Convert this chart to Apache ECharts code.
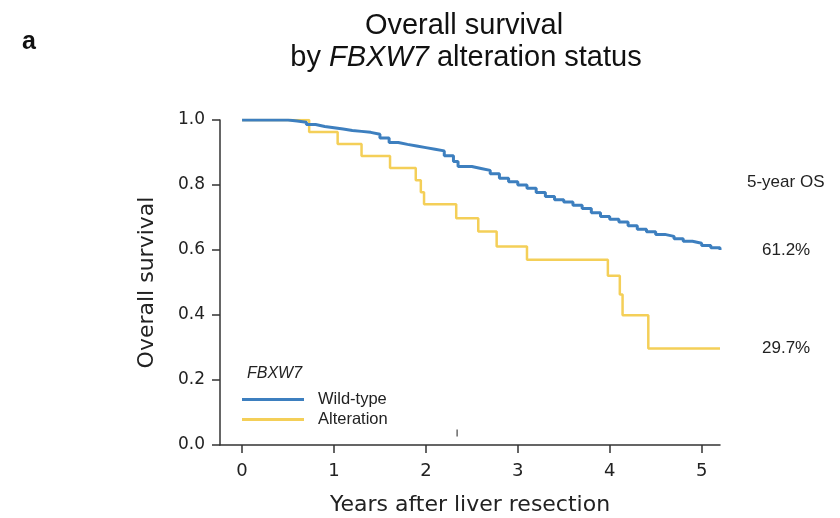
<!DOCTYPE html>
<html>
<head>
<meta charset="utf-8">
<script src="https://cdn.jsdelivr.net/npm/echarts@6/dist/echarts.min.js"></script>
<style>
  html, body { margin: 0; padding: 0; background: #fff; }
  #km { width: 840px; height: 518px; }
</style>
</head>
<body>
<div id="km"></div>
<script>
    // Kaplan-Meier curves: [years, survival]
    var wildType = [
        [0, 1.0], [0.45, 1.0], [0.5, 0.997], [0.6, 0.993], [0.7, 0.986], [0.8, 0.98],
        [0.9, 0.976], [1.0, 0.972], [1.1, 0.968], [1.2, 0.965], [1.3, 0.962], [1.4, 0.956],
        [1.5, 0.945], [1.6, 0.931], [1.7, 0.925], [1.8, 0.92], [1.9, 0.915], [2.0, 0.91],
        [2.1, 0.905], [2.2, 0.89], [2.3, 0.872], [2.35, 0.857], [2.5, 0.851], [2.6, 0.845],
        [2.7, 0.835], [2.8, 0.821], [2.9, 0.81], [3.0, 0.8], [3.1, 0.79], [3.2, 0.777],
        [3.3, 0.765], [3.4, 0.755], [3.5, 0.748], [3.6, 0.738], [3.7, 0.728], [3.8, 0.715],
        [3.9, 0.703], [4.0, 0.695], [4.1, 0.686], [4.2, 0.675], [4.3, 0.664], [4.4, 0.656],
        [4.5, 0.648], [4.6, 0.642], [4.7, 0.635], [4.8, 0.627], [4.9, 0.621], [5.0, 0.614],
        [5.1, 0.607], [5.2, 0.6]
    ];
    var alteration = [
        [0, 1.0], [0.73, 0.963], [1.04, 0.926], [1.30, 0.889], [1.61, 0.852], [1.89, 0.815],
        [1.945, 0.778], [1.98, 0.741], [2.33, 0.698], [2.57, 0.657], [2.77, 0.611],
        [3.10, 0.570], [3.98, 0.521], [4.11, 0.463], [4.14, 0.399], [4.42, 0.297], [5.2, 0.297]
    ];
    var censorMarks = [[2.34, 0.037]];
    var seriesNames = ['Wild-type', 'Alteration'];
    var osLabels = ['61.2%', '29.7%'];
    var xTicks = [0, 1, 2, 3, 4, 5];

    var blue = '#3d7fbf';
    var yellow = '#f4cf58';
    var axisColor = '#333';

    var myChart = echarts.init(document.getElementById('km'));
    var option = {
        animation: false,
        backgroundColor: '#fff',
        grid: { left: 220, right: 120, top: 120, bottom: 73, containLabel: false, outerBoundsMode: 'none' },
        legend: {
            data: seriesNames,
            orient: 'vertical',
            left: 242,
            top: 391,
            padding: 0,
            icon: 'rect',
            itemWidth: 62,
            itemHeight: 3,
            itemGap: 3,
            textStyle: {
                fontFamily: 'Liberation Sans',
                fontSize: 16.5,
                lineHeight: 17,
                color: '#222',
                padding: [0, 0, 0, 9]
            }
        },
        xAxis: {
            type: 'value',
            min: -0.24,
            max: 5.2,
            name: 'Years after liver resection',
            nameLocation: 'middle',
            nameGap: 49,
            nameTextStyle: { fontFamily: 'DejaVu Sans', fontSize: 22, color: '#222' },
            splitLine: { show: false },
            axisLine: { show: true, onZero: false, lineStyle: { color: axisColor, width: 1.5 } },
            axisTick: { show: true, customValues: xTicks, length: 8, lineStyle: { color: axisColor, width: 1.5 } },
            axisLabel: {
                customValues: xTicks,
                margin: 17,
                fontFamily: 'DejaVu Sans',
                fontSize: 18,
                color: '#222'
            }
        },
        yAxis: {
            type: 'value',
            min: 0,
            max: 1,
            interval: 0.2,
            name: 'Overall survival',
            nameLocation: 'middle',
            nameGap: 62,
            nameRotate: 90,
            nameTextStyle: { fontFamily: 'DejaVu Sans', fontSize: 22, color: '#222' },
            splitLine: { show: false },
            axisLine: { show: true, onZero: false, lineStyle: { color: axisColor, width: 1.5 } },
            axisTick: { show: true, length: 8, lineStyle: { color: axisColor, width: 1.5 } },
            axisLabel: {
                margin: 15,
                fontFamily: 'DejaVu Sans',
                fontSize: 17,
                color: '#222',
                formatter: function (v) { return v.toFixed(1); }
            }
        },
        series: [
            {
                name: seriesNames[0],
                type: 'line',
                step: 'end',
                data: wildType,
                showSymbol: false,
                symbol: 'none',
                z: 3,
                lineStyle: { color: blue, width: 3 },
                itemStyle: { color: blue }
            },
            {
                name: seriesNames[1],
                type: 'line',
                step: 'end',
                data: alteration,
                showSymbol: false,
                symbol: 'none',
                z: 2,
                lineStyle: { color: yellow, width: 2.5 },
                itemStyle: { color: yellow }
            },
            {
                name: 'censor',
                type: 'scatter',
                data: censorMarks,
                symbol: 'rect',
                symbolSize: [1.5, 7],
                itemStyle: { color: '#444' },
                silent: true
            }
        ],
        graphic: [
            { type: 'text', x: 22, y: 42, style: { text: 'a', font: 'bold 25px "Liberation Sans"', fill: '#111', verticalAlign: 'middle' } },
            { type: 'text', x: 464, y: 26, style: { text: 'Overall survival', font: '29px "Liberation Sans"', fill: '#111', align: 'center', verticalAlign: 'middle' } },
            {
                type: 'text', x: 466, y: 58,
                style: {
                    text: '{n|by }{i|FBXW7}{n| alteration status}',
                    align: 'center', verticalAlign: 'middle',
                    rich: {
                        n: { font: '29px "Liberation Sans"', fill: '#111' },
                        i: { font: 'italic 29px "Liberation Sans"', fill: '#111' }
                    }
                }
            },
            { type: 'text', x: 247, y: 374, style: { text: 'FBXW7', font: 'italic 16px "Liberation Sans"', fill: '#222', verticalAlign: 'middle' } },
            { type: 'text', x: 747, y: 182, style: { text: '5-year OS', font: '17px "Liberation Sans"', fill: '#222', verticalAlign: 'middle' } },
            { type: 'text', x: 762, y: 250, style: { text: osLabels[0], font: '17px "Liberation Sans"', fill: '#222', verticalAlign: 'middle' } },
            { type: 'text', x: 762, y: 348, style: { text: osLabels[1], font: '17px "Liberation Sans"', fill: '#222', verticalAlign: 'middle' } }
        ]
    };
    myChart.setOption(option);
</script>
</body>
</html>
